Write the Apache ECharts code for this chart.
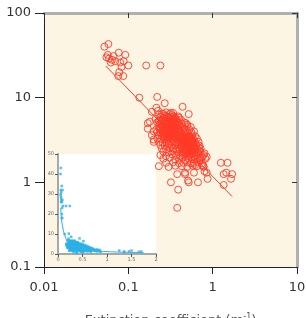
<!DOCTYPE html>
<html>
<head>
<meta charset="utf-8">
<script src="https://cdn.jsdelivr.net/npm/echarts@6/dist/echarts.min.js"></script>
<style>
  html, body { margin: 0; padding: 0; background: #fff; }
  #main { width: 306px; height: 318px; }
</style>
</head>
<body>
<div id="main"></div>
<script>
// 消光系数 vs 深度 (log-log)，左下角小图为线性坐标
const xTickLabels = ['0.01', '0.1', '1', '10'];
const yTickLabels = ['0.1', '1', '10', '100'];
const insetXTicks = ['0', '0.5', '1', '1.5', '2'];
const insetYTicks = ['0', '10', '20', '30', '40', '50'];

const upperPoints = [
  [0.052, 40], [0.058, 43], [0.055, 30], [0.057, 32], [0.059, 29], [0.062, 26],
  [0.064, 28], [0.067, 31], [0.07, 27], [0.077, 34], [0.08, 26], [0.088, 27],
  [0.092, 32], [0.083, 23], [0.078, 20], [0.076, 18], [0.087, 18], [0.1, 24],
  [0.163, 24], [0.24, 24]
];

const midPoints = [
  [0.135, 10], [0.22, 10.2], [0.27, 8.6], [0.44, 7.8], [0.19, 6.8], [0.215, 7.6],
  [0.225, 7.0], [0.52, 6.4], [0.17, 5.0], [0.17, 4.3], [0.2, 3.0], [0.18, 5.2],
  [0.2, 4.0], [0.2, 3.2], [0.48, 5.0], [0.5, 4.8], [0.4, 5.8], [0.26, 6.4],
  [0.32, 6.6], [0.55, 4.5], [0.6, 4.0], [0.21, 5.6], [0.19, 3.6]
];

const corePoints = [
  [0.27, 6.1], [0.30, 5.9], [0.33, 6.2], [0.36, 5.8], [0.39, 6.0],
  [0.24, 5.4], [0.27, 5.6], [0.29, 5.3], [0.31, 5.7], [0.33, 5.4], [0.35, 5.6], [0.38, 5.3], [0.42, 5.5],
  [0.22, 5.1], [0.245, 4.9], [0.26, 5.2], [0.28, 4.95], [0.30, 5.1], [0.32, 4.9], [0.34, 5.15],
  [0.36, 4.85], [0.39, 5.05], [0.43, 4.9], [0.46, 5.1],
  [0.23, 4.6], [0.25, 4.7], [0.27, 4.5], [0.29, 4.65], [0.31, 4.55], [0.33, 4.7], [0.35, 4.5],
  [0.37, 4.6], [0.40, 4.65], [0.44, 4.5], [0.50, 4.6],
  [0.215, 4.2], [0.235, 4.25], [0.255, 4.1], [0.275, 4.3], [0.295, 4.15], [0.315, 4.25],
  [0.335, 4.1], [0.355, 4.3], [0.38, 4.2], [0.41, 4.1], [0.45, 4.25], [0.48, 4.15], [0.53, 4.2],
  [0.22, 3.9], [0.24, 3.85], [0.26, 3.95], [0.28, 3.8], [0.30, 3.95], [0.32, 3.85], [0.34, 3.9],
  [0.365, 3.8], [0.39, 3.95], [0.42, 3.85], [0.46, 3.9], [0.50, 3.8], [0.56, 3.9],
  [0.23, 3.6], [0.25, 3.55], [0.27, 3.65], [0.29, 3.5], [0.31, 3.6], [0.33, 3.65], [0.35, 3.5],
  [0.37, 3.6], [0.40, 3.55], [0.43, 3.65], [0.46, 3.5], [0.49, 3.6], [0.52, 3.55], [0.57, 3.6], [0.62, 3.5],
  [0.22, 3.3], [0.245, 3.25], [0.265, 3.35], [0.285, 3.2], [0.305, 3.3], [0.33, 3.25], [0.355, 3.35],
  [0.38, 3.2], [0.41, 3.3], [0.44, 3.35], [0.47, 3.2], [0.50, 3.3], [0.53, 3.25], [0.56, 3.35],
  [0.60, 3.2], [0.65, 3.3],
  [0.23, 3.0], [0.255, 2.95], [0.28, 3.05], [0.30, 2.9], [0.32, 3.0], [0.345, 3.05], [0.37, 2.95],
  [0.40, 3.0], [0.43, 2.9], [0.46, 3.05], [0.49, 2.95], [0.52, 3.0], [0.55, 2.9], [0.58, 3.05],
  [0.62, 2.95], [0.68, 3.0],
  [0.24, 2.75], [0.27, 2.7], [0.30, 2.8], [0.33, 2.7], [0.36, 2.75], [0.39, 2.8], [0.42, 2.7],
  [0.45, 2.75], [0.48, 2.8], [0.51, 2.7], [0.54, 2.75], [0.57, 2.8], [0.60, 2.7], [0.64, 2.75], [0.70, 2.7],
  [0.25, 2.5], [0.28, 2.45], [0.31, 2.55], [0.34, 2.5], [0.37, 2.45], [0.40, 2.55], [0.43, 2.5],
  [0.46, 2.45], [0.49, 2.55], [0.52, 2.5], [0.55, 2.45], [0.58, 2.55], [0.62, 2.5], [0.66, 2.45], [0.72, 2.5],
  [0.26, 2.3], [0.30, 2.25], [0.34, 2.35], [0.38, 2.3], [0.42, 2.25], [0.45, 2.3], [0.48, 2.35],
  [0.51, 2.25], [0.54, 2.3], [0.57, 2.35], [0.61, 2.25], [0.65, 2.3], [0.70, 2.35],
  [0.24, 2.1], [0.28, 2.05], [0.33, 2.15], [0.37, 2.1], [0.41, 2.05], [0.44, 2.1], [0.47, 2.15],
  [0.50, 2.05], [0.53, 2.1], [0.56, 2.15], [0.60, 2.05], [0.64, 2.1], [0.68, 2.15], [0.78, 2.1],
  [0.26, 1.9], [0.31, 1.95], [0.36, 1.85], [0.40, 1.9], [0.44, 1.95], [0.48, 1.85], [0.52, 1.9],
  [0.56, 1.95], [0.61, 1.85], [0.66, 1.9], [0.72, 1.95], [0.82, 1.9],
  [0.28, 1.7], [0.34, 1.72], [0.40, 1.68], [0.45, 1.7], [0.50, 1.72], [0.55, 1.68], [0.60, 1.7],
  [0.67, 1.72], [0.75, 1.68],
  [0.23, 1.55], [0.30, 1.52], [0.36, 1.57], [0.43, 1.55], [0.50, 1.52], [0.58, 1.57], [0.65, 1.55], [0.78, 1.52]
];

// 两个最密集的团块
const densePoints = [
  [0.23, 6.3], [0.25, 6.5], [0.28, 6.7], [0.31, 6.4], [0.34, 6.6], [0.24, 5.9], [0.26, 5.8],
  [0.285, 6.0], [0.32, 5.9], [0.345, 6.0], [0.37, 5.5], [0.23, 5.3], [0.255, 5.45], [0.275, 5.25],
  [0.305, 5.4], [0.325, 5.2], [0.345, 5.35], [0.235, 4.85], [0.265, 4.8], [0.29, 4.85], [0.31, 4.95],
  [0.33, 4.8], [0.355, 4.95], [0.38, 4.75], [0.24, 4.4], [0.26, 4.45], [0.28, 4.35], [0.30, 4.4],
  [0.32, 4.45], [0.345, 4.35], [0.37, 4.4], [0.395, 4.35], [0.25, 4.0], [0.27, 4.05], [0.29, 4.0],
  [0.31, 4.05], [0.33, 4.0], [0.355, 4.05], [0.38, 3.95], [0.405, 4.0], [0.26, 3.7], [0.28, 3.75],
  [0.30, 3.7], [0.32, 3.75], [0.34, 3.7], [0.36, 3.75], [0.385, 3.7], [0.27, 3.4], [0.29, 3.45],
  [0.31, 3.4], [0.34, 3.45], [0.37, 3.4], [0.39, 3.45],
  [0.42, 3.45], [0.45, 3.4], [0.48, 3.45], [0.51, 3.4], [0.54, 3.45], [0.43, 3.1], [0.45, 3.15],
  [0.47, 3.1], [0.50, 3.15], [0.53, 3.1], [0.56, 3.15], [0.59, 3.1], [0.44, 2.85], [0.47, 2.9],
  [0.50, 2.85], [0.53, 2.9], [0.56, 2.85], [0.59, 2.9], [0.46, 2.6], [0.49, 2.65], [0.52, 2.6],
  [0.55, 2.65], [0.58, 2.6], [0.61, 2.65], [0.48, 2.4], [0.51, 2.4], [0.54, 2.4], [0.57, 2.4],
  [0.6, 2.45], [0.50, 2.2], [0.53, 2.2], [0.58, 2.2],
  [0.68, 2.6], [0.72, 2.3], [0.75, 2.0], [0.7, 1.8], [0.62, 1.6]
];

const lowerPoints = [
  [0.32, 1.0], [0.39, 0.82], [0.38, 0.5], [0.52, 1.0], [0.51, 1.05], [0.67, 1.0], [0.87, 1.1],
  [1.25, 1.7], [1.5, 1.7], [1.45, 1.3], [1.35, 1.25], [1.7, 1.25], [1.65, 1.1], [1.35, 0.93],
  [0.47, 1.3], [0.47, 1.25], [0.6, 1.3], [0.38, 1.25], [0.78, 1.55], [0.85, 1.3], [0.8, 2.2],
  [0.85, 2.0], [0.76, 1.6], [0.8, 1.35]
];

const fitLine = [[0.054, 23.7], [1.7, 0.68]];
const insetCurve = [
  [0.055, 23], [0.07, 18], [0.1, 13], [0.15, 8.5], [0.2, 6.3], [0.3, 4.2],
  [0.5, 2.5], [0.75, 1.6], [1, 1.2], [1.4, 0.85], [1.75, 0.68]
];

const allPoints = upperPoints.concat(midPoints, corePoints, densePoints, lowerPoints);

var myChart = echarts.init(document.getElementById('main'));

const red = '#ff3a26';
const blue = '#2cb2e8';
const font = 'DejaVu Sans';

const option = {
  animation: false,
  textStyle: { fontFamily: font },
  grid: [
    { left: 44, top: 13, width: 253, height: 254, show: true, backgroundColor: '#fdf5e3', borderWidth: 0, outerBoundsMode: 'none', containLabel: false },
    { left: 58, top: 154, width: 98, height: 100, show: true, backgroundColor: '#ffffff', borderWidth: 0, outerBoundsMode: 'none', containLabel: false }
  ],
  xAxis: [
    {
      gridIndex: 0, type: 'log', logBase: 10, min: 0.01, max: 10, position: 'bottom',
      axisLine: { lineStyle: { color: '#222', width: 1 } },
      axisTick: { length: 7, lineStyle: { color: '#222' } },
      splitLine: { show: false },
      axisLabel: {
        fontSize: 13, color: '#333', margin: 14,
        formatter: (v, i) => xTickLabels[i]
      },
      name: 'Extinction coefficient (m{s|-1})',
      nameLocation: 'middle', nameGap: 46,
      nameTextStyle: {
        fontSize: 13, color: '#555',
        rich: { s: { fontSize: 8, color: '#555', padding: [0, 0, 8, 0] } }
      }
    },
    {
      gridIndex: 0, type: 'log', logBase: 10, min: 0.01, max: 10, position: 'top',
      axisLine: { lineStyle: { color: '#b0b0b0', width: 3 } },
      axisTick: { inside: true, length: 5, lineStyle: { color: '#333' } },
      axisLabel: { show: false }, splitLine: { show: false }
    },
    {
      gridIndex: 1, type: 'value', min: 0, max: 2, interval: 0.5, position: 'bottom',
      axisLine: { lineStyle: { color: '#555', width: 1 } },
      axisTick: { length: 2, lineStyle: { color: '#555' } },
      splitLine: { show: false },
      axisLabel: { fontSize: 5, color: '#666', margin: 3, formatter: (v, i) => insetXTicks[i] }
    },
    {
      gridIndex: 1, type: 'value', min: 0, max: 2, interval: 0.5, position: 'top',
      axisLine: { lineStyle: { color: '#a8a8a8', width: 2 } },
      axisTick: { inside: true, length: 3, lineStyle: { color: '#555' } },
      axisLabel: { show: false }, splitLine: { show: false }
    }
  ],
  yAxis: [
    {
      gridIndex: 0, type: 'log', logBase: 10, min: 0.1, max: 100, position: 'left',
      axisLine: { show: true, lineStyle: { color: '#222', width: 1 } },
      axisTick: { show: true, length: 9, lineStyle: { color: '#222' } },
      splitLine: { show: false },
      axisLabel: { fontSize: 13, color: '#333', margin: 13, formatter: (v, i) => yTickLabels[i] }
    },
    {
      gridIndex: 0, type: 'log', logBase: 10, min: 0.1, max: 100, position: 'right',
      axisLine: { show: true, lineStyle: { color: '#b0b0b0', width: 3 } },
      axisTick: { show: true, inside: true, length: 5, lineStyle: { color: '#333' } },
      axisLabel: { show: false }, splitLine: { show: false }
    },
    {
      gridIndex: 1, type: 'value', min: 0, max: 50, interval: 10, position: 'left',
      axisLine: { show: true, lineStyle: { color: '#555', width: 1 } },
      axisTick: { show: true, length: 2, lineStyle: { color: '#555' } },
      splitLine: { show: false },
      axisLabel: { fontSize: 5, color: '#666', margin: 4, formatter: (v, i) => insetYTicks[i] }
    },
    {
      gridIndex: 1, type: 'value', min: 0, max: 50, interval: 10, position: 'right',
      axisLine: { show: true, lineStyle: { color: '#a8a8a8', width: 2 } },
      axisTick: { show: true, inside: true, length: 3, lineStyle: { color: '#555' } },
      axisLabel: { show: false }, splitLine: { show: false }
    }
  ],
  series: [
    {
      type: 'scatter', xAxisIndex: 0, yAxisIndex: 0,
      symbol: 'circle', symbolSize: 7,
      itemStyle: { color: 'rgba(0,0,0,0)', borderColor: red, borderWidth: 1, opacity: 0.9 },
      data: allPoints
    },
    {
      type: 'line', xAxisIndex: 0, yAxisIndex: 0,
      showSymbol: false, lineStyle: { color: '#e8412f', width: 1 },
      data: fitLine
    },
    {
      type: 'scatter', xAxisIndex: 2, yAxisIndex: 2,
      symbol: 'rect', symbolSize: 2.5,
      itemStyle: { color: blue },
      data: allPoints
    },
    {
      type: 'line', xAxisIndex: 2, yAxisIndex: 2, smooth: true,
      showSymbol: false, lineStyle: { color: blue, width: 1 },
      data: insetCurve
    }
  ]
};

myChart.setOption(option);
</script>
</body>
</html>
